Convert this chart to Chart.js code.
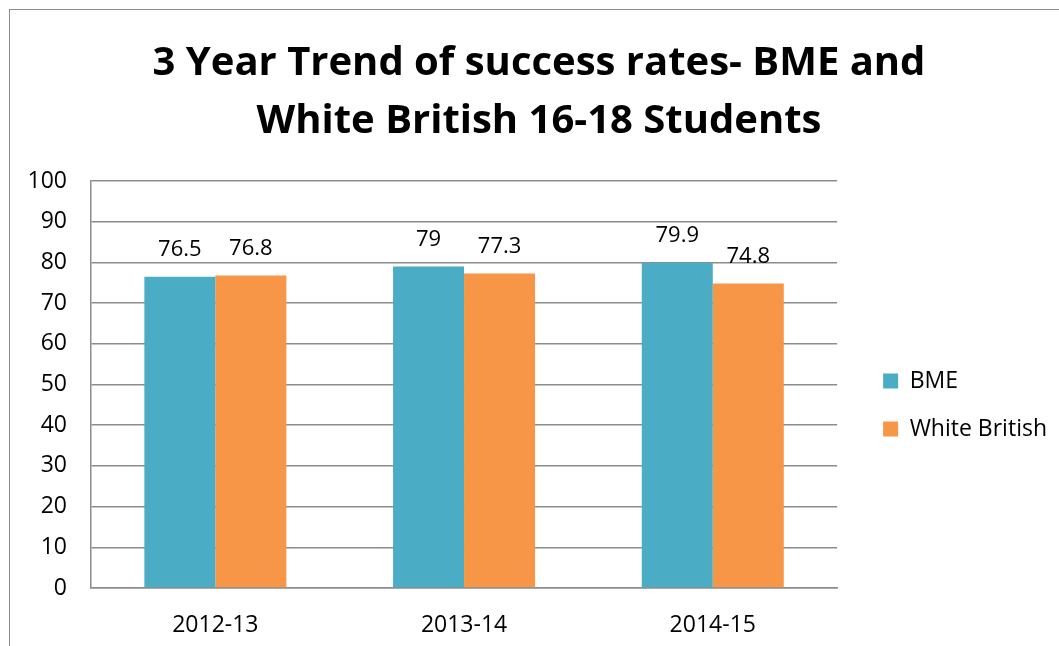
<!DOCTYPE html>
<html>
<head>
<meta charset="utf-8">
<script src="https://cdn.jsdelivr.net/npm/chart.js@4.4.1/dist/chart.umd.min.js"></script>
<style>
  html, body { margin: 0; padding: 0; background: #fff; overflow: hidden; }
  #wrap { position: relative; width: 1059px; height: 646px; }
  #frame { position: absolute; left: 9px; top: 9px; width: 1100px; height: 700px;
           border: 1.5px solid #8c8c8c; pointer-events: none; }
</style>
</head>
<body>
<div id="wrap">
  <canvas id="barChart-success" width="1059" height="646"></canvas>
  <div id="frame"></div>
</div>
<script>
// data
const years = ["2012-13", "2013-14", "2014-15"];
const bme = [76.5, 79, 79.9];
const whiteBritish = [76.8, 77.3, 74.8];
const titleLines = ["3 Year Trend of success rates- BME and", "White British 16-18 Students"];

const FONT = "'Open Sans', 'Liberation Sans', sans-serif";

// value labels above each bar
const barValueLabels = {
    id: 'barValueLabels',
    afterDatasetsDraw(chart) {
        const ctx = chart.ctx;
        ctx.save();
        ctx.font = "22px " + FONT;
        ctx.fillStyle = '#000';
        ctx.textAlign = 'center';
        ctx.textBaseline = 'middle';
        chart.data.datasets.forEach((ds, i) => {
            chart.getDatasetMeta(i).data.forEach((bar, j) => {
                ctx.fillText(String(ds.data[j]), bar.x, bar.y - 27);
            });
        });
        ctx.restore();
    }
};

// nudge legend and title a bit, like the original
const boxNudge = {
    id: 'boxNudge',
    afterLayout(chart) {
        const lg = chart.legend;
        lg.left += 21; lg.right += 21;
        lg.top += 82; lg.bottom += 82;
        const tb = chart.titleBlock;
        tb.left += 11; tb.right += 11;
    }
};

let barCtx_success = document.getElementById("barChart-success");
let barConfig_success = {
    type: 'bar',
    data: {
        labels: years,
        datasets: [{
            label: 'BME',
            data: bme,
            backgroundColor: '#4BACC6',
            borderWidth: 0,
        }, {
            label: 'White British',
            data: whiteBritish,
            backgroundColor: '#F79646',
            borderWidth: 0,
        }]
    },
    options: {
        responsive: false,
        animation: false,
        layout: { padding: { left: 20, right: 23, top: 0, bottom: 0 } },
        datasets: { bar: { barPercentage: 1.0, categoryPercentage: 0.571 } },
        plugins: {
            title: {
                display: true,
                text: titleLines,
                color: '#000',
                font: { family: FONT, size: 40, weight: 'bold', lineHeight: 1.45 },
                padding: { top: 35, bottom: 30 }
            },
            legend: {
                position: 'right',
                labels: {
                    color: '#000',
                    font: { family: FONT, size: 23 },
                    boxWidth: 15,
                    boxHeight: 15,
                    padding: 25
                }
            },
            tooltip: { enabled: false }
        },
        scales: {
            x: {
                grid: { display: false },
                border: { display: true, color: '#8c8c8c', width: 1.5 },
                ticks: { color: '#000', font: { family: FONT, size: 23 }, padding: 16 },
                afterFit: (scale) => { scale.height = 58; }
            },
            y: {
                min: 0,
                max: 100,
                ticks: { stepSize: 10, color: '#000', font: { family: FONT, size: 23 }, padding: 24 },
                grid: { color: '#8c8c8c', lineWidth: 1.5, drawTicks: false },
                border: { display: true, color: '#8c8c8c', width: 1.5 },
                afterFit: (scale) => { scale.width = 71; }
            }
        }
    },
    plugins: [barValueLabels, boxNudge]
};
let barChart_success = new Chart(barCtx_success, barConfig_success);
</script>
</body>
</html>
